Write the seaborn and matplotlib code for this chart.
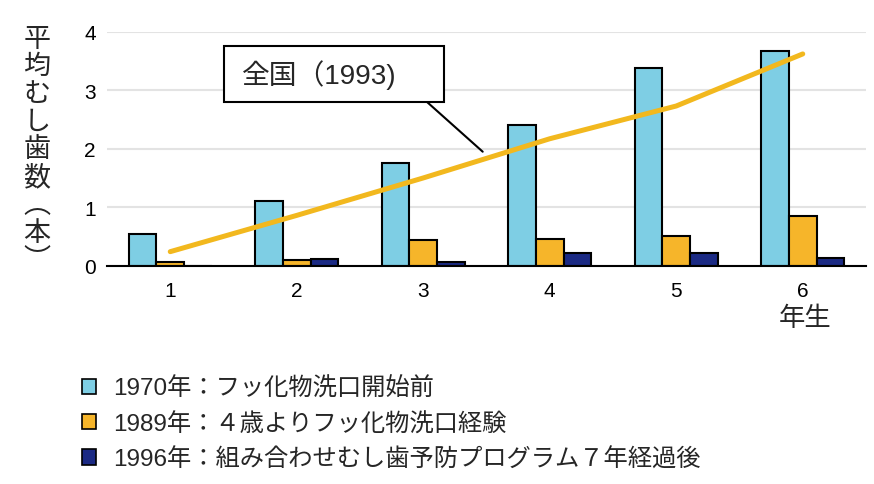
import matplotlib
matplotlib.use("Agg")
import matplotlib.pyplot as plt
import seaborn as sns
import pandas as pd
from matplotlib.patches import Patch, Rectangle
from matplotlib.lines import Line2D

grades = ["1", "2", "3", "4", "5", "6"]
s1970 = [0.55, 1.11, 1.75, 2.41, 3.38, 3.67]
s1989 = [0.07, 0.10, 0.44, 0.45, 0.51, 0.85]
s1996 = [0.00, 0.11, 0.06, 0.21, 0.21, 0.13]
national1993 = [0.24, 0.86, 1.50, 2.17, 2.73, 3.62]
series_labels = ["1970年：フッ化物洗口開始前",
                 "1989年：４歳よりフッ化物洗口経験",
                 "1996年：組み合わせむし歯予防プログラム７年経過後"]
colors = ["#7ECEE4", "#F6B52A", "#1B2A84"]
line_color = "#F2B81E"

sns.set_theme(style="white")
plt.rcParams['font.family'] = ['Liberation Sans', 'Noto Sans CJK JP', 'DejaVu Sans']

rows = []
for lab, vals in zip(series_labels, [s1970, s1989, s1996]):
    for g, v in zip(grades, vals):
        rows.append({"grade": g, "value": v, "series": lab})
df = pd.DataFrame(rows)

W, H = 874, 485
fig = plt.figure(figsize=(8.74, 4.85), dpi=100)
ax = fig.add_axes([107 / W, 1 - 266.7 / H, 759 / W, 234 / H])

sns.barplot(data=df, x="grade", y="value", hue="series", palette=colors,
            width=0.66, gap=0, edgecolor="black", linewidth=1.5,
            saturation=1, ax=ax, legend=False, zorder=3)

ldf = pd.DataFrame({"x": list(range(len(grades))), "y": national1993})
sns.lineplot(data=ldf, x="x", y="y", color=line_color, linewidth=3.6,
             ax=ax, zorder=4, solid_capstyle="round")

ax.set_xlim(-0.5, 5.5)
ax.set_ylim(0, 4)
ax.set_yticks([0, 1, 2, 3, 4])
ax.yaxis.grid(True, color="#E3E3E3", linewidth=1.5, zorder=0)
ax.set_axisbelow(True)
for s in ["left", "right", "top"]:
    ax.spines[s].set_visible(False)
ax.spines["bottom"].set_color("black")
ax.spines["bottom"].set_linewidth(1.5)
ax.spines["bottom"].set_zorder(5)
ax.tick_params(axis="both", length=0, labelsize=15, colors="black")
ax.tick_params(axis="y", pad=8)
ax.tick_params(axis="x", pad=11)
ax.set_xlabel("")
ax.set_ylabel("")

cjk = ['Noto Sans CJK JP', 'DejaVu Sans']

# vertical y label
ylabel_chars = ["平", "均", "む", "し", "歯", "数", "︵", "本", "︶"]
fig.text(37 / W, 1 - 150 / H, "\n".join(ylabel_chars), ha="center", va="center",
         fontsize=19.5, linespacing=1.035, family=cjk)

# unit label
fig.text(805 / W, 1 - 318 / H, "年生", ha="center", va="center", fontsize=19,
         family=cjk)

# annotation box with leader line
fig.add_artist(Line2D([426.7 / W, 482.7 / W], [1 - 102.7 / H, 1 - 152.7 / H],
                      color="black", lw=1.5, transform=fig.transFigure, zorder=6))
fig.add_artist(Rectangle((224 / W, 1 - 102.7 / H), 220 / W, 56 / H,
                         transform=fig.transFigure, fc="white", ec="black",
                         lw=1.5, zorder=7))
fig.text(242 / W, 1 - 75 / H, "全国（1993)", ha="left", va="center",
         fontsize=20, zorder=8)

handles = [Patch(facecolor=c, edgecolor="black", linewidth=1.2) for c in colors]
fig.legend(handles, series_labels, loc="upper left",
           bbox_to_anchor=(72 / W, 1 - 368 / H), frameon=False,
           fontsize=17.5, handlelength=0.6, handleheight=0.6,
           handletextpad=0.7, labelspacing=0.5, borderaxespad=0)

fig.savefig("out.png", dpi=100)
